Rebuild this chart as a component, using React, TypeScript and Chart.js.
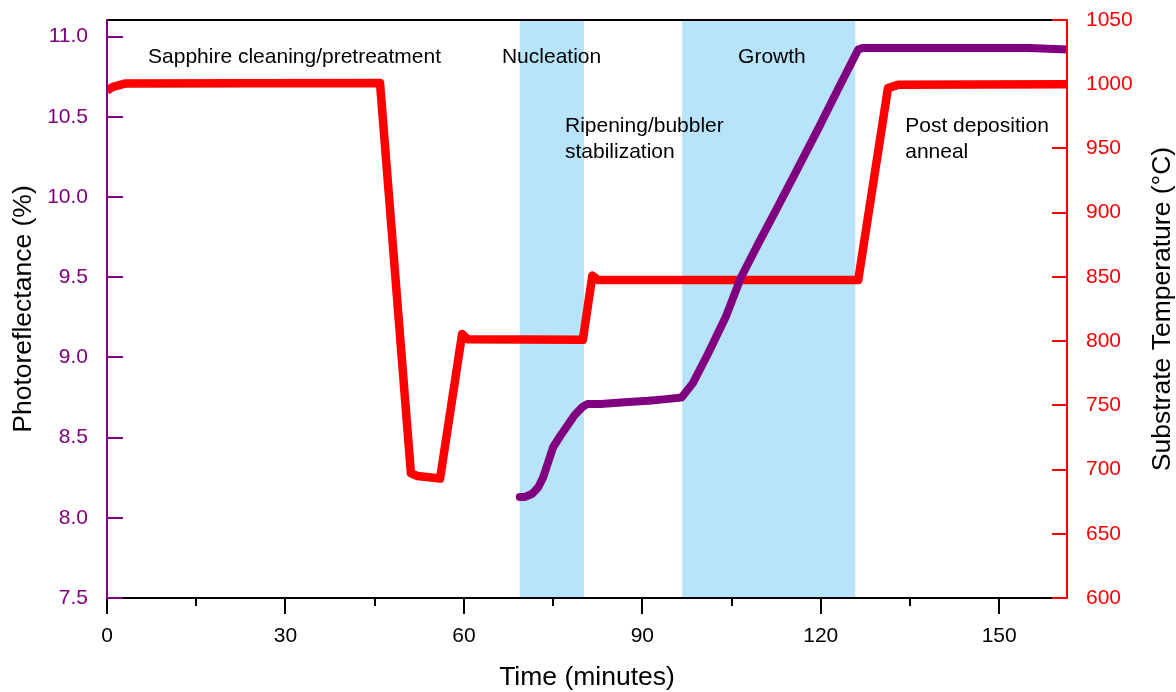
import React, { useEffect, useRef } from 'react';
import { Chart, registerables } from 'chart.js';

Chart.register(...registerables);

const FONT = "'Liberation Sans', Arial, Helvetica, sans-serif";
const PURPLE = '#800080';
const RED = '#ff0000';
const SHADE = '#b8e4fb';

// Substrate temperature (right axis, °C)
const tempTime = [0, 1, 3, 45.9, 51.1, 52.2, 56.0, 59.7, 60.6, 80.0, 81.6, 82.6, 126.3, 131.3, 133.0, 161.4];
const tempValue = [995, 998, 1000.5, 1001, 697, 695, 693, 805.5, 801.5, 801, 851, 847.5, 847.5, 997, 999.5, 1000];

// Photoreflectance (left axis, %)
const reflTime = [69.4, 70.3, 71.5, 72.5, 73.3, 74.2, 75.0, 76.2, 77.3, 78.6, 79.9, 80.8, 83, 87, 91, 94, 96.6, 98.5, 101, 104, 106.6, 109.5, 112.5, 116, 119.5, 123, 126.3, 127, 135, 145, 155, 161.4];
const reflValue = [8.13, 8.13, 8.15, 8.19, 8.25, 8.35, 8.44, 8.51, 8.57, 8.64, 8.69, 8.71, 8.71, 8.72, 8.73, 8.74, 8.75, 8.84, 9.02, 9.25, 9.5, 9.71, 9.92, 10.17, 10.42, 10.68, 10.92, 10.93, 10.93, 10.93, 10.93, 10.92];

// Shaded phases (minutes)
const shadeStart = [69.4, 96.7];
const shadeEnd = [80.2, 125.8];

// Tick values
const xTicks = [0, 30, 60, 90, 120, 150];
const xMinorTicks = [15, 45, 75, 105, 135];
const leftTicks = [7.5, 8.0, 8.5, 9.0, 9.5, 10.0, 10.5, 11.0];
const rightTicks = [600, 650, 700, 750, 800, 850, 900, 950, 1000, 1050];

// Phase labels: text lines, time, left-axis value of first line
const labelText = [['Sapphire cleaning/pretreatment'], ['Nucleation'], ['Growth'], ['Ripening/bubbler', 'stabilization'], ['Post deposition', 'anneal']];
const labelTime = [6.9, 66.4, 106.1, 77.0, 134.2];
const labelValue = [10.875, 10.875, 10.875, 10.44, 10.44];

const X_MAX = 161.4;
const LEFT_MAX = 11.104;

const App = () => {
  const ref = useRef<HTMLCanvasElement>(null);

  useEffect(() => {
    document.body.style.margin = '0';
    const canvas = ref.current;
    if (!canvas) return;

    const shadePlugin = {
      id: 'shade',
      beforeDatasetsDraw(chart: any) {
        const { ctx, chartArea } = chart;
        const xs = chart.scales.x;
        ctx.save();
        ctx.fillStyle = SHADE;
        for (let i = 0; i < shadeStart.length; i++) {
          const a = xs.getPixelForValue(shadeStart[i]);
          const b = xs.getPixelForValue(shadeEnd[i]);
          ctx.fillRect(a, chartArea.top, b - a, chartArea.bottom - chartArea.top);
        }
        ctx.restore();
      },
    };

    const axesPlugin = {
      id: 'axesDeco',
      afterDraw(chart: any) {
        const { ctx, chartArea } = chart;
        const { left, right, top, bottom } = chartArea;
        const xs = chart.scales.x;
        const yl = chart.scales.y;
        const yr = chart.scales.y2;
        ctx.save();
        ctx.lineWidth = 2;
        ctx.lineCap = 'butt';
        // frame
        ctx.strokeStyle = '#000';
        ctx.beginPath();
        ctx.moveTo(left, top); ctx.lineTo(right, top);
        ctx.moveTo(left, bottom); ctx.lineTo(right, bottom);
        ctx.stroke();
        // bottom ticks
        ctx.beginPath();
        xTicks.forEach((v) => { const p = Math.round(xs.getPixelForValue(v)); ctx.moveTo(p, bottom); ctx.lineTo(p, bottom + 16); });
        xMinorTicks.forEach((v) => { const p = Math.round(xs.getPixelForValue(v)); ctx.moveTo(p, bottom); ctx.lineTo(p, bottom + 8); });
        ctx.stroke();
        // left axis
        ctx.strokeStyle = PURPLE;
        ctx.beginPath();
        ctx.moveTo(left, top - 1); ctx.lineTo(left, bottom + 1);
        leftTicks.forEach((v) => { const p = Math.round(yl.getPixelForValue(v)); ctx.moveTo(left, p); ctx.lineTo(left + 16, p); });
        ctx.stroke();
        // right axis
        ctx.strokeStyle = RED;
        ctx.beginPath();
        ctx.moveTo(right, top - 1); ctx.lineTo(right, bottom + 1);
        rightTicks.forEach((v) => { const p = Math.round(yr.getPixelForValue(v)); ctx.moveTo(right - 15, p); ctx.lineTo(right, p); });
        ctx.stroke();

        // axis titles
        ctx.fillStyle = '#000';
        ctx.font = `26.5px ${FONT}`;
        ctx.textAlign = 'center';
        ctx.textBaseline = 'middle';
        ctx.fillText('Time (minutes)', (left + right) / 2, 678);
        const midY = (top + bottom) / 2;
        ctx.save();
        ctx.translate(24, midY);
        ctx.rotate(-Math.PI / 2);
        ctx.fillText('Photoreflectance (%)', 0, 0);
        ctx.restore();
        ctx.save();
        ctx.translate(1163, midY);
        ctx.rotate(-Math.PI / 2);
        ctx.fillText('Substrate Temperature (°C)', 0, 0);
        ctx.restore();

        // phase labels
        ctx.font = `21px ${FONT}`;
        ctx.textAlign = 'left';
        labelText.forEach((lines, i) => {
          const px = xs.getPixelForValue(labelTime[i]);
          const py = yl.getPixelForValue(labelValue[i]);
          lines.forEach((t, j) => ctx.fillText(t, px, py + j * 26));
        });
        ctx.restore();
      },
    };

    const fitY = (w: number) => (s: any) => { s.width = w; s.paddingTop = 0; s.paddingBottom = 0; };

    const chart = new Chart(canvas, {
      type: 'line',
      data: {
        datasets: [
          {
            label: 'Photoreflectance',
            data: reflTime.map((t, i) => ({ x: t, y: reflValue[i] })),
            yAxisID: 'y',
            borderColor: PURPLE,
            backgroundColor: PURPLE,
            borderWidth: 8,
            pointRadius: 0,
            tension: 0,
            borderCapStyle: 'round',
            borderJoinStyle: 'round',
            fill: false,
          },
          {
            label: 'Substrate Temperature',
            data: tempTime.map((t, i) => ({ x: t, y: tempValue[i] })),
            yAxisID: 'y2',
            borderColor: RED,
            backgroundColor: RED,
            borderWidth: 8.5,
            pointRadius: 0,
            tension: 0,
            borderCapStyle: 'butt',
            borderJoinStyle: 'round',
            fill: false,
          },
        ],
      },
      options: {
        responsive: false,
        animation: false,
        devicePixelRatio: 1,
        layout: { padding: { top: 20, left: 0, right: 0, bottom: 0 } },
        plugins: { legend: { display: false }, tooltip: { enabled: false } },
        scales: {
          x: {
            type: 'linear',
            min: 0,
            max: X_MAX,
            afterBuildTicks: (s: any) => { s.ticks = xTicks.map((value) => ({ value })); },
            afterFit: (s: any) => { s.height = 94; s.paddingLeft = 0; s.paddingRight = 0; },
            grid: { display: false, drawTicks: false },
            border: { display: false },
            ticks: { color: '#000', font: { family: FONT, size: 21 }, padding: 26, maxRotation: 0, autoSkip: false, callback: (v: any) => String(v) },
          },
          y: {
            type: 'linear',
            position: 'left',
            min: 7.5,
            max: LEFT_MAX,
            afterBuildTicks: (s: any) => { s.ticks = leftTicks.map((value) => ({ value })); },
            afterFit: fitY(107),
            grid: { display: false, drawTicks: false },
            border: { display: false },
            ticks: { color: PURPLE, font: { family: FONT, size: 21 }, padding: 19, autoSkip: false, callback: (v: any) => Number(v).toFixed(1) },
          },
          y2: {
            type: 'linear',
            position: 'right',
            min: 600,
            max: 1050,
            afterBuildTicks: (s: any) => { s.ticks = rightTicks.map((value) => ({ value })); },
            afterFit: fitY(109),
            grid: { display: false, drawTicks: false },
            border: { display: false },
            ticks: { color: RED, font: { family: FONT, size: 21 }, padding: 19, autoSkip: false, callback: (v: any) => String(v) },
          },
        },
      },
      plugins: [shadePlugin, axesPlugin],
    } as any);

    return () => chart.destroy();
  }, []);

  return (
    <div style={{ width: 1176, height: 692 }}>
      <canvas ref={ref} width={1176} height={692} style={{ display: 'block', width: 1176, height: 692 }} />
    </div>
  );
};

export default App;
